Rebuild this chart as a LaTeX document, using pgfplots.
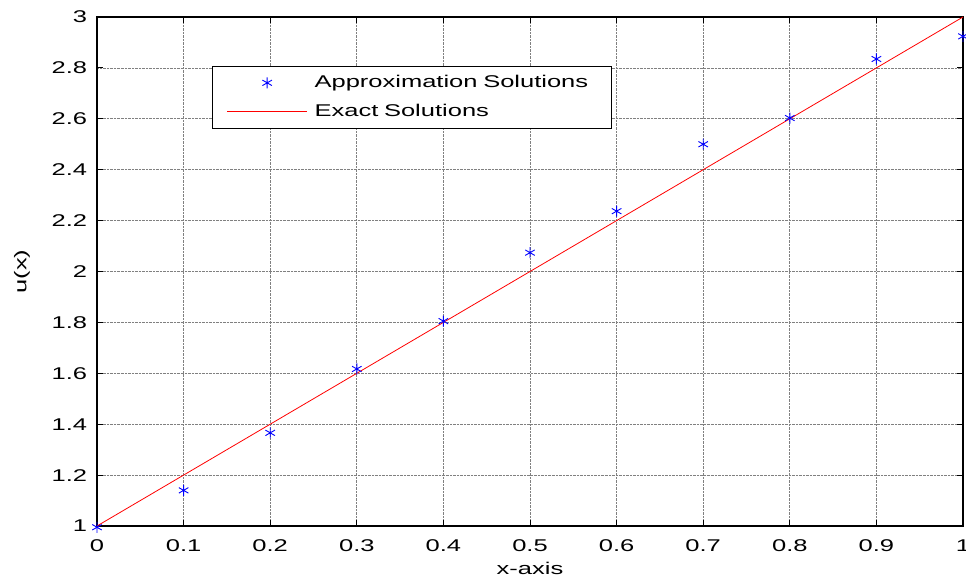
\documentclass[border=0pt]{standalone}
\usepackage{fontspec}
\setmainfont{Liberation Sans}[FakeStretch=1.5]
\usepackage{pgfplots}
\pgfplotsset{compat=1.18}
% wider legend samples, 80bp long
\pgfplotsset{
  markleg/.style={legend image code/.code={\draw[mark repeat=2,mark phase=2,##1]
    plot coordinates {(0bp,0bp) (40bp,0bp) (80bp,0bp)};}},
  lineleg/.style={legend image code/.code={\draw[##1, draw=red, line width=0.9bp]
    (0bp,0.5bp) -- (80bp,0.5bp);}},
}

\begin{document}
\fontsize{17bp}{20bp}\selectfont
\begin{tikzpicture}
\begin{axis}[
  name=ax,
  scale only axis,
  width=866bp, height=509bp,
  xmin=0, xmax=1, ymin=1, ymax=3,
  clip=false,
  xtick={0,0.1,...,1.01},
  ytick={1,1.2,...,3.01},
  xticklabels={0,0.1,0.2,0.3,0.4,0.5,0.6,0.7,0.8,0.9,1},
  yticklabels={1,1.2,1.4,1.6,1.8,2,2.2,2.4,2.6,2.8,3},
  tick align=inside,
  major tick length=6bp,
  tick style={black, line width=0.8bp},
  axis line style={black, line width=1.3bp},
  grid=major,
  major grid style={densely dotted, black!50, line width=0.7bp},
  /pgf/number format/assume math mode=true,
  ticklabel style={font=\fontsize{17bp}{20bp}\selectfont},
  xticklabel style={yshift=-8bp},
  yticklabel style={xshift=-4bp},
  xlabel={x-axis},
  ylabel={u(x)},
  label style={font=\fontsize{17bp}{20bp}\selectfont},
  xlabel style={at={(axis description cs:0.5,0)}, anchor=center, yshift=-42bp},
  ylabel style={at={(axis description cs:-0.0866,0.5)}, anchor=center},
  legend cell align=left,
  legend style={
    at={(0.133,0.904)}, anchor=north west,
    draw=black, line width=1.1bp,
    inner xsep=14bp, inner ysep=9bp,
    font=\fontsize{17bp}{20bp}\selectfont,
    row sep=14bp,
    nodes={inner xsep=7bp, inner ysep=0bp, text width=276bp},
  },
]
\addplot[only marks, mark=asterisk, blue, mark size=5.5bp, line width=0.9bp, markleg]
  coordinates {
  (0,0.995) (0.1,1.14) (0.2,1.366) (0.3,1.617) (0.4,1.805) (0.5,2.074)
  (0.6,2.237) (0.7,2.50) (0.8,2.603) (0.9,2.835) (1,2.924)
  };
\addlegendentry{Approximation Solutions}
\addplot[red, line width=0.8bp, lineleg]
  coordinates {
  (0,1) (0.1,1.2) (0.2,1.4) (0.3,1.6) (0.4,1.8) (0.5,2)
  (0.6,2.2) (0.7,2.4) (0.8,2.6) (0.9,2.8) (1,3)
  };
\addlegendentry{Exact Solutions}
\end{axis}
\pgfresetboundingbox
\path[use as bounding box] ([xshift=-97bp,yshift=-54bp]ax.south west)
  rectangle ([xshift=3bp,yshift=17bp]ax.north east);
\end{tikzpicture}
\end{document}
